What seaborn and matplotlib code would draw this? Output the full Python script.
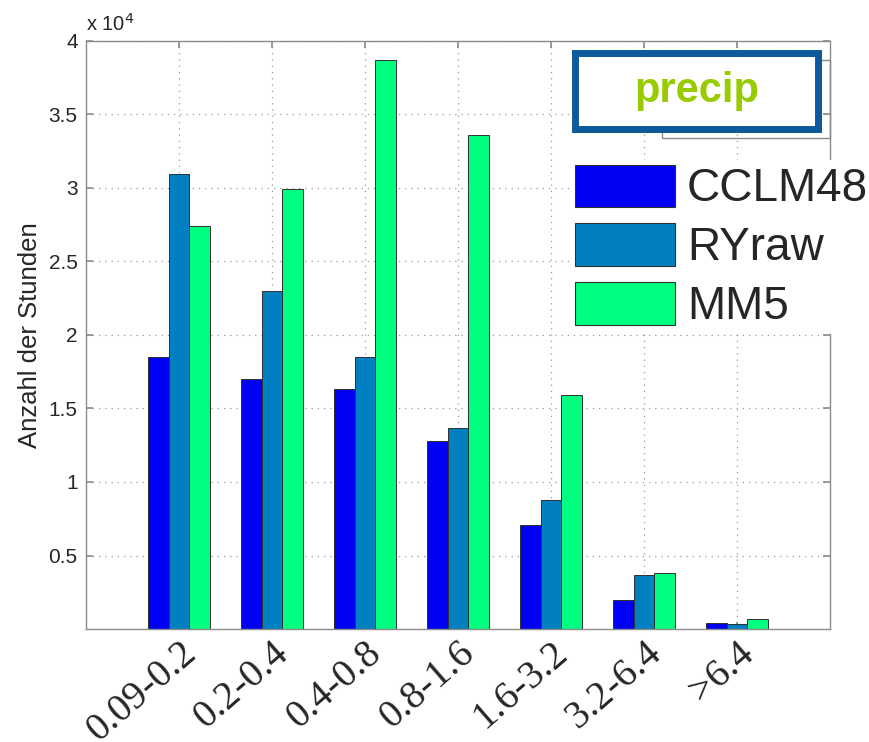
import matplotlib
matplotlib.use("Agg")
import matplotlib.pyplot as plt
import matplotlib.transforms as mtransforms
from matplotlib.patches import Rectangle
import numpy as np
import pandas as pd
import seaborn as sns

# Hourly precipitation classes (mm/h) and number of hours per model
categories = ["0.09-0.2", "0.2-0.4", "0.4-0.8", "0.8-1.6", "1.6-3.2", "3.2-6.4", ">6.4"]
cclm48 = [18500, 17000, 16300, 12800, 7100, 2000, 400]
ryraw = [30950, 23000, 18500, 13700, 8800, 3700, 350]
mm5 = [27400, 29950, 38700, 33600, 15900, 3800, 700]
models = ["CCLM48", "RYraw", "MM5"]
colors = ["#0000f5", "#0080c0", "#00ff80"]
ytick_values = [5000, 10000, 15000, 20000, 25000, 30000, 35000, 40000]
ytick_labels = ["0.5", "1", "1.5", "2", "2.5", "3", "3.5", "4"]

df = pd.DataFrame({
    "Klasse": categories * 3,
    "Stunden": cclm48 + ryraw + mm5,
    "Modell": [m for m in models for _ in categories],
})

sns.set_theme(style="white")
plt.rcParams["font.family"] = ["Liberation Sans", "DejaVu Sans"]

W, H = 870, 742
fig = plt.figure(figsize=(W / 100, H / 100), dpi=100)
ax = fig.add_axes([86 / W, 1 - 629 / H, (830 - 86) / W, (629 - 41) / H])

sns.barplot(data=df, x="Klasse", y="Stunden", hue="Modell", order=categories,
            hue_order=models, palette=colors, width=0.67, edgecolor="#303030",
            linewidth=0.7, ax=ax, saturation=1)

ax.set_xlim(-1, 7)
ax.set_ylim(0, 40000)
ax.set_yticks(ytick_values)
ax.set_yticklabels(ytick_labels, fontsize=15)
ax.set_xticks(range(len(categories)))
ax.set_xticklabels(categories, fontsize=28.5, family=["Liberation Serif", "DejaVu Serif"],
                   rotation=41, ha="right", va="top", rotation_mode="anchor")
shift = mtransforms.ScaledTranslation(18 / 100, 6 / 100, fig.dpi_scale_trans)
for lbl in ax.get_xticklabels():
    lbl.set_transform(lbl.get_transform() + shift)

ax.set_xlabel("")
ax.set_ylabel("Anzahl der Stunden", fontsize=18.5)
ax.yaxis.set_label_coords(-0.059, 0.5)

for side in ["left", "right", "top", "bottom"]:
    ax.spines[side].set_visible(True)
    ax.spines[side].set_color("#8c8c8c")
    ax.spines[side].set_linewidth(1.0)
ax.tick_params(axis="both", direction="in", length=5, color="#8c8c8c", pad=6,
               top=True, right=True, bottom=True, left=True)
ax.tick_params(axis="x", pad=4)
ax.grid(True, axis="both", linestyle=(0, (1, 4)), color="#9a9a9a", linewidth=0.9)
ax.set_axisbelow(True)

fig.text(86 / W, 1 - 35 / H, r"x 10$^4$", fontsize=14.5, ha="left", va="bottom")

# legend on a white, borderless background
handles, labels = ax.get_legend_handles_labels()
ax.get_legend().remove()
leg = fig.legend(handles, labels, loc="upper left",
                 bbox_to_anchor=(570 / W, 1 - 160 / H), bbox_transform=fig.transFigure,
                 fontsize=33, handlelength=2.2, handleheight=1.05, handletextpad=0.25,
                 labelspacing=0.26, borderpad=0.1, borderaxespad=0, frameon=True,
                 fancybox=False, framealpha=1, facecolor="white", edgecolor="none")
leg.set_zorder(5)
for hnd in leg.legend_handles:
    hnd.set_edgecolor("#303030")
    hnd.set_linewidth(0.8)

# title box with a grey frame behind it
fig.add_artist(Rectangle((662 / W, 1 - 138 / H), (830 - 662) / W, (138 - 60) / H,
                         transform=fig.transFigure, facecolor="none",
                         edgecolor="#8c8c8c", linewidth=1.0, zorder=6))
fig.add_artist(Rectangle((575.5 / W, 1 - 128.5 / H), (818.5 - 575.5) / W, (128.5 - 53.5) / H,
                         transform=fig.transFigure, facecolor="white",
                         edgecolor="#0a5a9c", linewidth=5, zorder=7))
fig.text(697 / W, 1 - 91 / H, "precip", fontsize=30, fontweight="bold", color="#99cc00",
         ha="center", va="center", zorder=8)

fig.savefig("out.png", dpi=100)
